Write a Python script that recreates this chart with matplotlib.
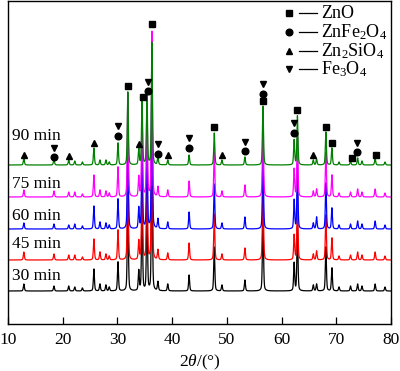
import numpy as np
import matplotlib
matplotlib.use("Agg")
import matplotlib.pyplot as plt

plt.rcParams['font.family'] = ['Liberation Serif', 'DejaVu Serif']
plt.rcParams['mathtext.fontset'] = 'custom'
plt.rcParams['mathtext.rm'] = 'Liberation Serif'
plt.rcParams['mathtext.it'] = 'Liberation Serif:italic'

# ---- data ----
samples = ["30 min", "45 min", "60 min", "75 min", "90 min"]
colors = ["#000000", "#ff0000", "#0000ff", "#ff00ff", "#008000"]
baselines = [33, 64, 95, 127, 159]

peak_pos = [12.9, 18.4, 21.1, 22.2, 23.6, 25.7, 26.8, 27.9, 28.5, 30.1,
            31.9, 33.9, 34.5, 35.4, 36.3, 37.4, 39.2, 43.1, 47.7, 49.1,
            53.3, 56.6, 62.3, 62.9, 65.8, 66.4, 68.1, 69.2, 70.5, 72.6,
            73.9, 74.7, 77.1, 78.9]
h_30 = [7, 5, 5, 4, 3, 22, 7, 6, 4, 29, 98, 20, 88, 92, 150, 9, 7, 16, 44, 6,
        11, 80, 28, 64, 6, 7, 44, 23, 4, 5, 7, 5, 7, 4]
h_45 = [8, 6, 5, 5, 3, 21, 8, 6, 4, 30, 100, 19, 86, 95, 155, 10, 7, 17, 46, 6,
        12, 82, 25, 66, 6, 9, 45, 22, 4, 5, 8, 5, 8, 4]
h_60 = [6, 5, 4, 5, 3, 23, 7, 6, 4, 30, 102, 21, 88, 96, 158, 10, 7, 17, 45, 6,
        12, 83, 29, 65, 6, 12, 46, 21, 4, 5, 8, 5, 8, 4]
h_75 = [7, 6, 5, 5, 3, 22, 7, 6, 4, 30, 104, 20, 90, 97, 165, 10, 7, 16, 45, 6,
        12, 84, 28, 66, 6, 8, 45, 22, 4, 5, 8, 5, 8, 4]
h_90 = [7, 6, 5, 4, 3, 17, 5, 5, 3, 22, 73, 16, 65, 72, 122, 8, 5, 10, 32, 5,
        8, 59, 25, 49, 5, 6, 33, 17, 3, 4, 7, 4, 7, 3]
heights = [h_30, h_45, h_60, h_75, h_90]

# marker positions (2theta, height) for each phase
zno_x = [31.9, 34.6, 36.3, 47.7, 56.6, 62.8, 68.1, 69.2, 72.9, 77.3]
zno_y = [238, 227, 300, 197, 223, 214, 197, 181, 166, 169]
znfe_x = [18.4, 30.1, 35.6, 37.4, 43.1, 53.3, 56.6, 62.3, 73.8]
znfe_y = [167, 188, 233, 170, 176, 173, 230, 191, 172]
znsi_x = [12.9, 21.1, 25.7, 33.9, 39.2, 49.1, 65.8]
znsi_y = [169, 168, 181, 180, 169, 169, 169]
fe3_x = [18.4, 30.1, 35.6, 37.4, 43.1, 53.3, 56.6, 62.3, 73.8]
fe3_y = [176, 198, 242, 180, 186, 182, 240, 201, 181]

legend_labels = ["ZnO", "ZnFe$_2$O$_4$", "Zn$_2$SiO$_4$", "Fe$_3$O$_4$"]
legend_markers = ["s", "o", "^", "v"]

# ---- figure ----
fig = plt.figure(figsize=(4.0, 3.71), dpi=100)
ax = fig.add_axes([0.02, 0.1267, 0.9575, 0.8706])

x = np.arange(10, 80.001, 0.02)
w = 0.1
for name, col, base, hs in zip(samples, colors, baselines, heights):
    y = np.full_like(x, float(base))
    for p, h in zip(peak_pos, hs):
        y += h * (0.5 * np.exp(-((x - p) / (w * 1.2)) ** 2 * np.log(2))
                  + 0.5 / (1 + ((x - p) / w) ** 2))
    ax.plot(x, y, color=col, lw=0.9)

ms = 4.8
ax.plot(zno_x, zno_y, 's', color='k', ms=ms, ls='none')
ax.plot(znfe_x, znfe_y, 'o', color='k', ms=ms, ls='none')
ax.plot(znsi_x, znsi_y, '^', color='k', ms=ms, ls='none')
ax.plot(fe3_x, fe3_y, 'v', color='k', ms=ms, ls='none')

label_y = [44, 76, 104, 136, 184]
for name, ly in zip(samples, label_y):
    ax.text(10.7, ly, name, fontsize=12.5, va='baseline', ha='left')

# manual legend
leg_y = [0.962, 0.904, 0.845, 0.789]
for lab, mk, ly in zip(legend_labels, legend_markers, leg_y):
    ax.plot([0.734], [ly], mk, color='k', ms=ms, transform=ax.transAxes, clip_on=False)
    ax.plot([0.760, 0.806], [ly, ly], '-', color='k', lw=0.9, transform=ax.transAxes)
    ax.text(0.818, ly, lab, fontsize=13, va='center', ha='left', transform=ax.transAxes)

ax.set_xlim(10, 80)
ax.set_ylim(0, 323)
ax.set_xticks([10, 20, 30, 40, 50, 60, 70, 80])
ax.set_yticks([])
ax.tick_params(axis='x', direction='in', length=5, width=0.9, labelsize=12.5, pad=6)
for s in ax.spines.values():
    s.set_linewidth(1.0)
ax.set_xlabel(r"$2\theta$/(°)", fontsize=12.5, labelpad=3)

fig.savefig("out.png", dpi=100)
